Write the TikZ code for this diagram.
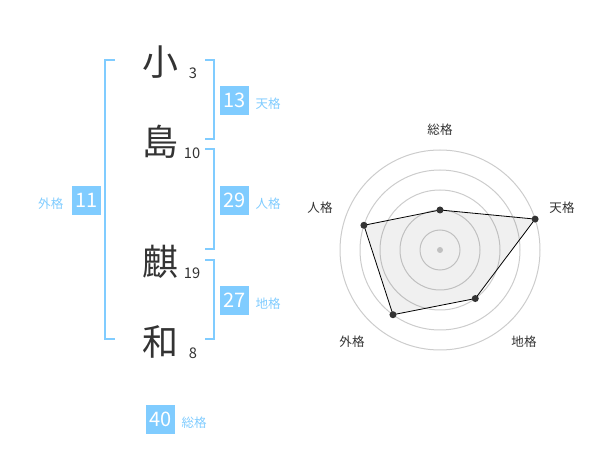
\documentclass[tikz,border=0pt]{standalone}
\usepackage{fontspec}
\setmainfont{Noto Sans CJK JP}
\definecolor{kakublue}{HTML}{80CCFF}
\definecolor{inkgray}{HTML}{333333}
\definecolor{ringgray}{HTML}{CCCCCC}

\begin{document}
\begin{tikzpicture}[x=0.75pt,y=-0.75pt,
  kanji/.style={text=inkgray,font=\fontsize{27}{27}\selectfont},
  strokes/.style={text=inkgray,font=\fontsize{11}{11}\selectfont},
  kakubox/.style={fill=kakublue,text=white,minimum size=21.75pt,inner sep=0pt,font=\fontsize{15}{15}\selectfont},
  kakuname/.style={text=kakublue,font=\fontsize{9.4}{9.4}\selectfont},
  bracket/.style={draw=kakublue,line width=1.5pt},
  axisname/.style={text=inkgray,font=\fontsize{9.4}{9.4}\selectfont},
  ring/.style={draw=ringgray,line width=0.75pt}]
\useasboundingbox (0,0) rectangle (600,470);
% name
\node[kanji] (k1) at (160,62) {小};
\node[kanji] (k2) at (160,142) {島};
\node[kanji] (k3) at (160,262) {麒};
\node[kanji] (k4) at (160,342) {和};
\node[strokes] (s1) at (193,73) {3};
\node[strokes] (s2) at (192,153) {10};
\node[strokes] (s3) at (192,273) {19};
\node[strokes] (s4) at (193,353) {8};
% brackets
\draw[bracket] (115,60) -- (105,60) -- (105,339) -- (115,339);
\draw[bracket] (205,60) -- (214,60) -- (214,139) -- (205,139);
\draw[bracket] (205,149) -- (214,149) -- (214,249) -- (205,249);
\draw[bracket] (205,260) -- (214,260) -- (214,339) -- (205,339);
% scores
\node[kakubox] (ten) at (234.5,100.5) {13};
\node[kakuname,anchor=west] at (251,104) {天格};
\node[kakubox] (jin) at (234.5,200.5) {29};
\node[kakuname,anchor=west] at (251,204) {人格};
\node[kakubox] (chi) at (234.5,300.5) {27};
\node[kakuname,anchor=west] at (251,304) {地格};
\node[kakubox] (gai) at (86.5,200.5) {11};
\node[kakuname,anchor=east] at (68,204) {外格};
\node[kakubox] (sou) at (160.5,419) {40};
\node[kakuname,anchor=west] at (177,423) {総格};
% radar
\begin{scope}[shift={(440,250)},yscale=-1]
\foreach \r in {20,40,...,100}
  \draw[ring] (0,0) circle (\r);
\fill[ringgray] (0,0) circle (3);
\coordinate (p-sou) at (90:40);
\coordinate (p-ten) at (18:100);
\coordinate (p-chi) at (-54:60);
\coordinate (p-gai) at (-126:80);
\coordinate (p-jin) at (162:80);
\draw[black,line width=0.6pt,fill=black,fill opacity=0.06]
  (p-sou) -- (p-ten) -- (p-chi) -- (p-gai) -- (p-jin) -- cycle;
\foreach \p in {sou,ten,chi,gai,jin}
  \fill[inkgray] (p-\p) circle (3.5);
\end{scope}
\node[axisname] (a-sou) at (440,130) {総格};
\node[axisname] (a-ten) at (562,208) {天格};
\node[axisname] (a-chi) at (524,342) {地格};
\node[axisname] (a-gai) at (352,342) {外格};
\node[axisname] (a-jin) at (320,208) {人格};
\end{tikzpicture}
\end{document}
